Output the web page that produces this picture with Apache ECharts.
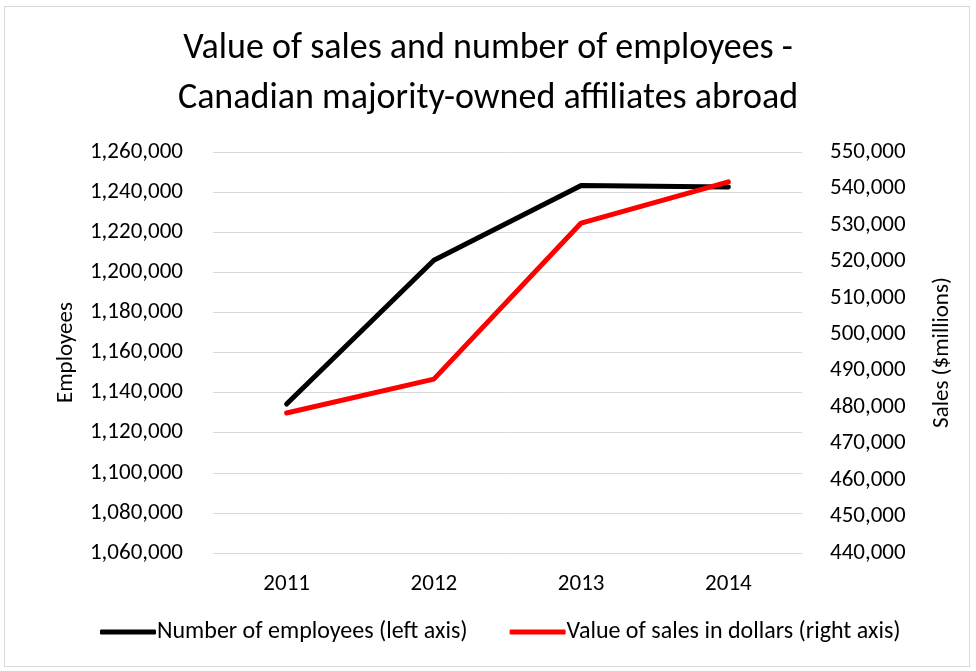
<!DOCTYPE html>
<html>
<head>
<meta charset="utf-8">
<script src="https://cdn.jsdelivr.net/npm/echarts@6/dist/echarts.min.js"></script>
<style>
  html, body { margin: 0; padding: 0; background: #fff; }
  #box { position: absolute; left: 4px; top: 6px; width: 964px; height: 659px; border: 1px solid #d9d9d9; }
  #chart { width: 976px; height: 671px; }
</style>
</head>
<body>
<div id="box"></div>
<div id="chart"></div>
<script>
// chart data
const years = ['2011', '2012', '2013', '2014'];
const employees = [1134300, 1206000, 1243300, 1242600];
const salesMillions = [478400, 487700, 530500, 541800];
const fontFam = 'Carlito, "Open Sans", sans-serif';

const chart = echarts.init(document.getElementById('chart'), null, { renderer: 'canvas' });

function fmt(v) { return v.toLocaleString('en-US'); }

chart.setOption({
  animation: false,
  title: {
    text: 'Value of sales and number of employees -\nCanadian majority-owned affiliates abroad',
    left: 'center',
    top: 19,
    textStyle: { fontFamily: fontFam, fontSize: 36, fontWeight: 'normal', color: '#000', lineHeight: 50 }
  },
  legend: {
    bottom: 22,
    left: 95,
    itemGap: 42,
    itemWidth: 56,
    itemHeight: 5,
    icon: 'roundRect',
    textStyle: { fontFamily: fontFam, fontSize: 24, color: '#000', padding: [0, 0, 0, -4] },
    data: ['Number of employees (left axis)', 'Value of sales in dollars (right axis)']
  },
  grid: { left: 213, right: 174, top: 152, bottom: 118 },
  xAxis: {
    type: 'category',
    data: years,
    boundaryGap: true,
    axisLine: { show: false },
    axisTick: { show: false },
    axisLabel: { fontFamily: fontFam, fontSize: 23, color: '#000', margin: 20 }
  },
  yAxis: [
    {
      type: 'value',
      name: 'Employees',
      nameLocation: 'middle',
      nameGap: 135,
      nameTextStyle: { fontFamily: fontFam, fontSize: 23, color: '#000' },
      min: 1060000, max: 1260000, interval: 20000,
      axisLine: { show: false },
      axisTick: { show: false },
      splitLine: { lineStyle: { color: '#d9d9d9', width: 1 } },
      axisLabel: { fontFamily: fontFam, fontSize: 23, color: '#000', margin: 30, formatter: fmt }
    },
    {
      type: 'value',
      name: 'Sales ($millions)',
      nameLocation: 'middle',
      nameGap: 129,
      nameRotate: 90,
      nameTextStyle: { fontFamily: fontFam, fontSize: 23, color: '#000' },
      min: 440000, max: 550000, interval: 10000,
      axisLine: { show: false },
      axisTick: { show: false },
      splitLine: { show: false },
      axisLabel: { fontFamily: fontFam, fontSize: 23, color: '#000', margin: 28, formatter: fmt }
    }
  ],
  series: [
    {
      name: 'Number of employees (left axis)',
      type: 'line',
      yAxisIndex: 0,
      data: employees,
      symbol: 'none',
      color: '#000',
      lineStyle: { color: '#000', width: 5, cap: 'round' }
    },
    {
      name: 'Value of sales in dollars (right axis)',
      type: 'line',
      yAxisIndex: 1,
      data: salesMillions,
      symbol: 'none',
      color: '#ff0000',
      lineStyle: { color: '#ff0000', width: 5, cap: 'round' }
    }
  ]
});
</script>
</body>
</html>
